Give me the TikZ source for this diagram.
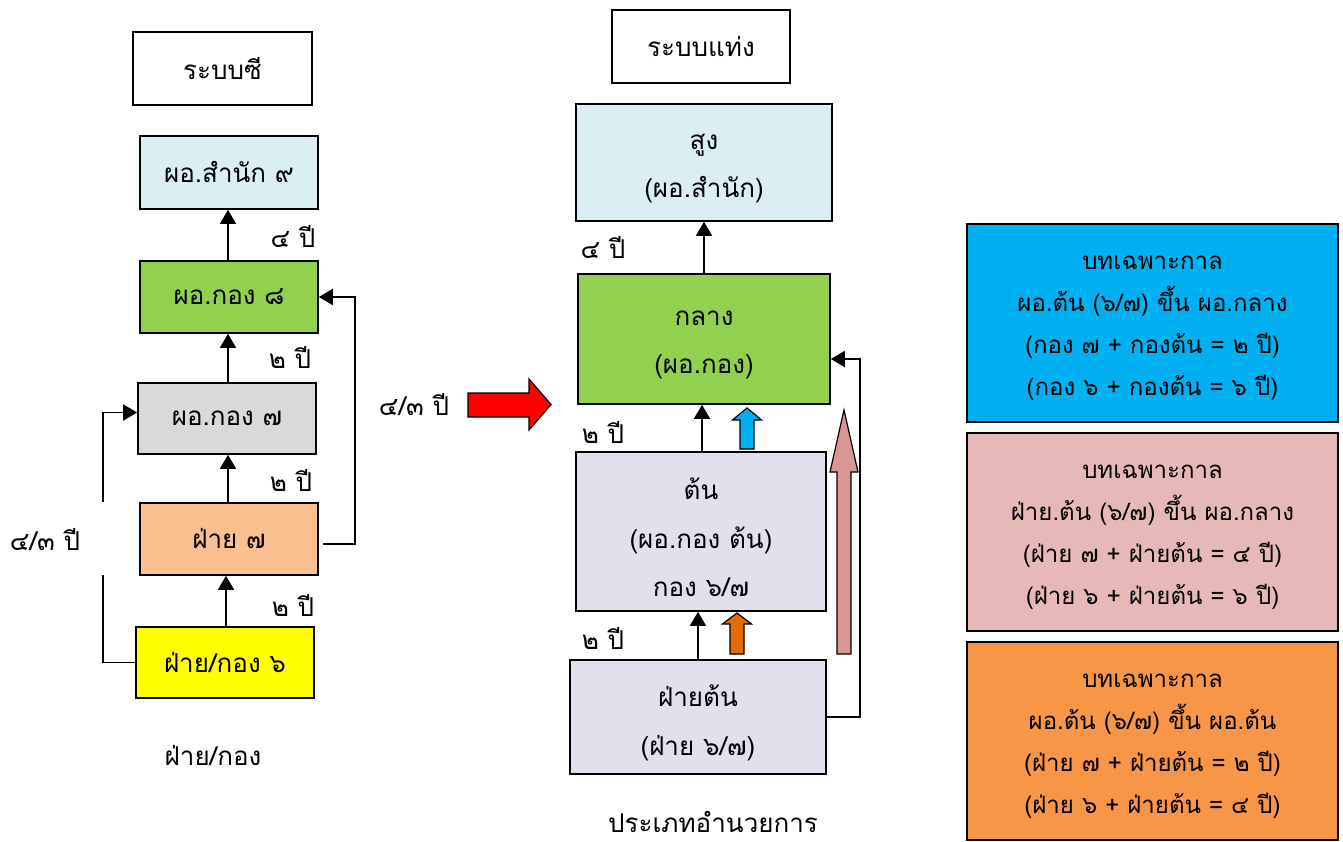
\documentclass[tikz,border=0pt]{standalone}
\usepackage{fontspec}
\newfontfamily\thai[Script=Thai]{Loma}
\usetikzlibrary{arrows.meta,calc}
\definecolor{lblue}{HTML}{DAEEF3}
\definecolor{lgreen}{HTML}{92D050}
\definecolor{lgrey}{HTML}{D9D9D9}
\definecolor{peach}{HTML}{FAC090}
\definecolor{lyellow}{HTML}{FFFF00}
\definecolor{lav}{HTML}{E4DFEC}
\definecolor{cyanbox}{HTML}{00B0F0}
\definecolor{pinkbox}{HTML}{E6B9B8}
\definecolor{orangebox}{HTML}{F79646}
\definecolor{pinkarrow}{HTML}{D99694}
\definecolor{orangearrow}{HTML}{E36C09}
\newcommand\blockup[7]{%
  \filldraw[fill=#7,draw=black,line width=0.9pt,line join=miter]
    ({#1-#4/2},{#2}) -- ({#1-#4/2},{#3+#6}) -- ({#1-#5/2},{#3+#6}) -- ({#1},{#3})
    -- ({#1+#5/2},{#3+#6}) -- ({#1+#4/2},{#3+#6}) -- ({#1+#4/2},{#2}) -- cycle;}
\begin{document}
\begin{tikzpicture}[x=0.75pt,y=-0.75pt,
  box/.style={draw=black,line width=1.2pt,align=center,inner sep=0pt,
    font=\thai\fontsize{19.5}{35}\selectfont},
  mtxt/.style={align=center,inner sep=0pt,yshift=-4.5pt,
    font=\thai\fontsize{19.5}{36.5}\selectfont},
  rbox/.style={draw=black,line width=1.2pt,inner sep=0pt,
    minimum width=371*0.75pt,minimum height=198*0.75pt},
  rtxt/.style={align=center,inner sep=0pt,yshift=-3.75pt,
    font=\thai\fontsize{18}{31.5}\selectfont},
  lbl/.style={inner sep=0pt,font=\thai\fontsize{19.5}{35}\selectfont},
  arr/.style={line width=1.2pt,-{Triangle[width=12pt,length=10.5pt]}}]
\useasboundingbox (0,0) rectangle (1343,842);
% left column
\node[box,minimum width=179*0.75pt,minimum height=73*0.75pt] (sysA) at (222.5,68.5) {ระบบซี};
\node[box,fill=lblue,minimum width=178*0.75pt,minimum height=73*0.75pt] (L9) at (229,172.5) {ผอ.สำนัก ๙};
\node[box,fill=lgreen,minimum width=178*0.75pt,minimum height=72*0.75pt] (L8) at (229,297) {ผอ.กอง ๘};
\node[box,fill=lgrey,minimum width=178*0.75pt,minimum height=71*0.75pt] (L7) at (227,418.5) {ผอ.กอง ๗};
\node[box,fill=peach,minimum width=178*0.75pt,minimum height=72*0.75pt] (LF7) at (229,539) {ฝ่าย ๗};
\node[box,fill=lyellow,minimum width=178*0.75pt,minimum height=71*0.75pt] (L6) at (225,662.5) {ฝ่าย/กอง ๖};
\draw[arr] (L8.north -| 228,0) -- (L9.south -| 228,0);
\draw[arr] (L7.north -| 228,0) -- (L8.south -| 228,0);
\draw[arr] (LF7.north -| 228,0) -- (L7.south -| 228,0);
\draw[arr] (L6.north -| 226,0) -- (LF7.south -| 226,0);
\draw[arr] (L6.west) -- ++(-32,0) |- ($(L7.west)+(0,-6)$);
\fill[white] (98,502) rectangle (112,575);
\draw[arr] ($(LF7.east)+(4,5)$) -- ($(LF7.east)+(36,5)$) |- (L8.east);
\node[lbl] (tL1) at (293,237) {๔ ปี};
\node[lbl] (tL2) at (290,357) {๒ ปี};
\node[lbl] (tL3) at (291,480) {๒ ปี};
\node[lbl] (tL4) at (293,605) {๒ ปี};
\node[lbl] (tL5) at (45,540) {๔/๓ ปี};
\node[lbl] (tL6) at (213,755) {ฝ่าย/กอง};
% middle
\node[lbl] (tM0) at (414,405) {๔/๓ ปี};
\filldraw[fill=red,draw=black,line width=0.9pt] (468,393) -- (529,393) -- (529,379) -- (551,404.5) -- (529,430) -- (529,417) -- (468,417) -- cycle;
\node[box,minimum width=178*0.75pt,minimum height=73*0.75pt] (sysB) at (701,46.5) {ระบบแท่ง};
\node[box,fill=lblue,minimum width=256*0.75pt,minimum height=117*0.75pt,
  label={[mtxt]center:{สูง\\(ผอ.สำนัก)}}] (M1) at (704,162.5) {};
\node[box,fill=lgreen,minimum width=252*0.75pt,minimum height=130*0.75pt,
  label={[mtxt]center:{กลาง\\(ผอ.กอง)}}] (M2) at (704,339) {};
\node[box,fill=lav,minimum width=250*0.75pt,minimum height=159*0.75pt,
  label={[mtxt]center:{ต้น\\(ผอ.กอง ต้น)\\กอง ๖/๗}}] (M3) at (701,531.5) {};
\node[box,fill=lav,minimum width=256*0.75pt,minimum height=114*0.75pt,
  label={[mtxt]center:{ฝ่ายต้น\\(ฝ่าย ๖/๗)}}] (M4) at (698,717) {};
\draw[arr] (M2.north) -- (M1.south);
\draw[arr] (M3.north -| 702,0) -- (M2.south -| 702,0);
\draw[arr] (M4.north) -- (M4.north |- M3.south);
\draw[arr] (M4.east) -- ++(33,0) |- ($(M2.east)+(0,20)$);
\blockup{747}{449}{408}{14}{29}{12}{cyanbox}
\blockup{737}{654}{613}{14}{29}{11}{orangearrow}
\blockup{844}{654}{410}{14}{28}{62}{pinkarrow}
\node[lbl] (tM1) at (603,248) {๔ ปี};
\node[lbl] (tM2) at (603,432) {๒ ปี};
\node[lbl] (tM3) at (603,638) {๒ ปี};
\node[lbl] (tM4) at (713,822) {ประเภทอำนวยการ};
% right
\node[rbox,fill=cyanbox,label={[rtxt]center:{บทเฉพาะกาล\\ผอ.ต้น (๖/๗) ขึ้น ผอ.กลาง\\(กอง ๗ + กองต้น = ๒ ปี)\\(กอง ๖ + กองต้น = ๖ ปี)}}] (R1) at (1152.5,323) {};
\node[rbox,fill=pinkbox,label={[rtxt]center:{บทเฉพาะกาล\\ฝ่าย.ต้น (๖/๗) ขึ้น ผอ.กลาง\\(ฝ่าย ๗ + ฝ่ายต้น = ๔ ปี)\\(ฝ่าย ๖ + ฝ่ายต้น = ๖ ปี)}}] (R2) at (1152.5,532) {};
\node[rbox,fill=orangebox,label={[rtxt]center:{บทเฉพาะกาล\\ผอ.ต้น (๖/๗) ขึ้น ผอ.ต้น\\(ฝ่าย ๗ + ฝ่ายต้น = ๒ ปี)\\(ฝ่าย ๖ + ฝ่ายต้น = ๔ ปี)}}] (R3) at (1152.5,741) {};
\end{tikzpicture}
\end{document}
